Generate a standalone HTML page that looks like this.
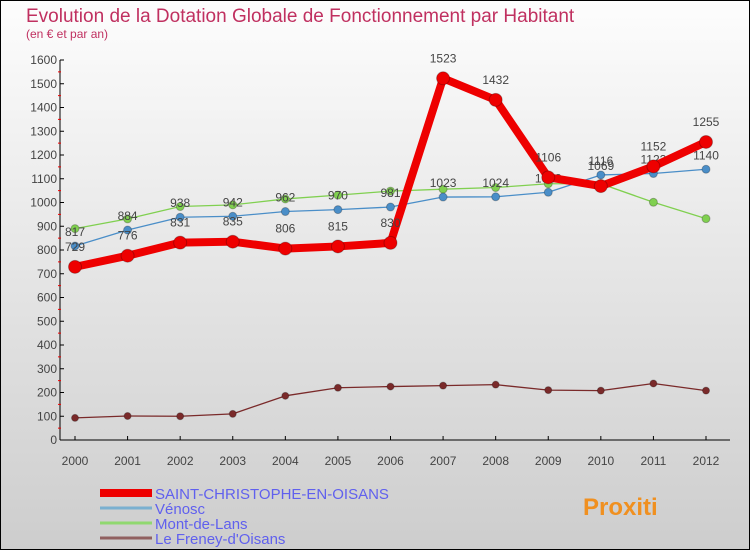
<!DOCTYPE html>
<html><head><meta charset="utf-8"><style>
body{margin:0}
#c{position:relative;width:750px;height:550px;overflow:hidden;font-family:"Liberation Sans",sans-serif}
svg text{font-family:"Liberation Sans",sans-serif}
</style></head><body>
<div id="c">
<svg id="s" width="750" height="550" xmlns="http://www.w3.org/2000/svg">
<defs><linearGradient id="bg" x1="0" y1="0" x2="0" y2="1"><stop offset="0" stop-color="#fdfdfd"/><stop offset="1" stop-color="#cdcdcd"/></linearGradient></defs>
<rect x="0.5" y="0.5" width="749" height="549" fill="url(#bg)" stroke="#000"/>
<text x="26" y="22" font-size="19" fill="#c03060">Evolution de la Dotation Globale de Fonctionnement par Habitant</text>
<text x="26" y="38" font-size="12" fill="#c03060">(en € et par an)</text>
<g id="g"></g>
</svg>
</div>
<script>
const years=[2000,2001,2002,2003,2004,2005,2006,2007,2008,2009,2010,2011,2012];
const yTicks=[0,100,200,300,400,500,600,700,800,900,1000,1100,1200,1300,1400,1500,1600];
const saint=[729,776,831,835,806,815,830,1523,1432,1106,1069,1152,1255];
const venosc=[817,884,938,942,962,970,981,1023,1024,1043,1116,1122,1140];
const mont=[890,931,983,990,1015,1031,1048,1056,1063,1079,1079,1001,932];
const freney=[93,101,100,110,186,220,225,229,233,210,208,238,208];
const seriesNames=["SAINT-CHRISTOPHE-EN-OISANS","Vénosc","Mont-de-Lans","Le Freney-d'Oisans"];

const NS="http://www.w3.org/2000/svg";
const g=document.getElementById('g');
const xs=y=>75+(y-2000)*(706-75)/12;
const ys=v=>440-v*380/1600;
function el(t,a,p){const e=document.createElementNS(NS,t);for(const k in a)e.setAttribute(k,a[k]);(p||g).appendChild(e);return e;}

let e=el('line',{x1:60,y1:60,x2:60,y2:440,stroke:'#000'});


e=el('line',{x1:60,y1:440,x2:730,y2:440,stroke:'#000'});


yTicks.forEach(v=>{
  el('line',{x1:60,y1:ys(v),x2:64,y2:ys(v),stroke:'#000'});
  if(v<1600)el('line',{x1:58,y1:ys(v+50),x2:61,y2:ys(v+50),stroke:'#e00'});
  const t=el('text',{x:57,y:ys(v)+4,'font-size':12,'text-anchor':'end',fill:'#444'});
  t.textContent=v;
  
  
});
years.forEach(y=>{
  el('line',{x1:xs(y),y1:436,x2:xs(y),y2:440,stroke:'#000'});
  const t=el('text',{x:xs(y),y:465,'font-size':12,'text-anchor':'middle',fill:'#444'});
  t.textContent=y;
  
  
});
function series(data,color,w,r,name,labelOff){
  const pts=data.map((v,i)=>xs(years[i])+','+ys(v)).join(' ');
  const l=el('polyline',{points:pts,fill:'none',stroke:color,'stroke-width':w,'stroke-linejoin':'round'});
  
  
  data.forEach((v,i)=>{
    const c=el('circle',{cx:xs(years[i]),cy:ys(v),r:r,fill:color,stroke:'rgba(0,0,0,0.25)'});
    
    
    const t=el('text',{x:xs(years[i]),y:ys(v)+labelOff,'font-size':12,'text-anchor':'middle',fill:'#444'});
    t.textContent=v;
    
    
  });
}
series(freney,'#7a2a2a',1.3,3.5,'le-freney','-10');
series(mont,'#80d050',1.3,4,'mont-de-lans','-10');
series(venosc,'#4a8ec8',1.3,4,'venosc',-10);
series(saint,'#ee0000',8,6.5,'saint-christophe',-16);

const lc=['#ee0000','#7ab0d0','#90d870','#906060'],lw=[8,3,3,3];
seriesNames.forEach((n,i)=>{
  const y=492+i*15;
  const l=el('line',{x1:100,y1:y+1,x2:152,y2:y+1,stroke:lc[i],'stroke-width':lw[i]});
  
  
  const t=el('text',{x:155,y:y+7,'font-size':15,fill:'#6060ee'});
  t.textContent=n;
  
  
});
const p=el('text',{x:583,y:515,'font-size':24,'font-weight':'bold',fill:'#f09020'});
p.textContent='Proxiti';


</script>
</body></html>
